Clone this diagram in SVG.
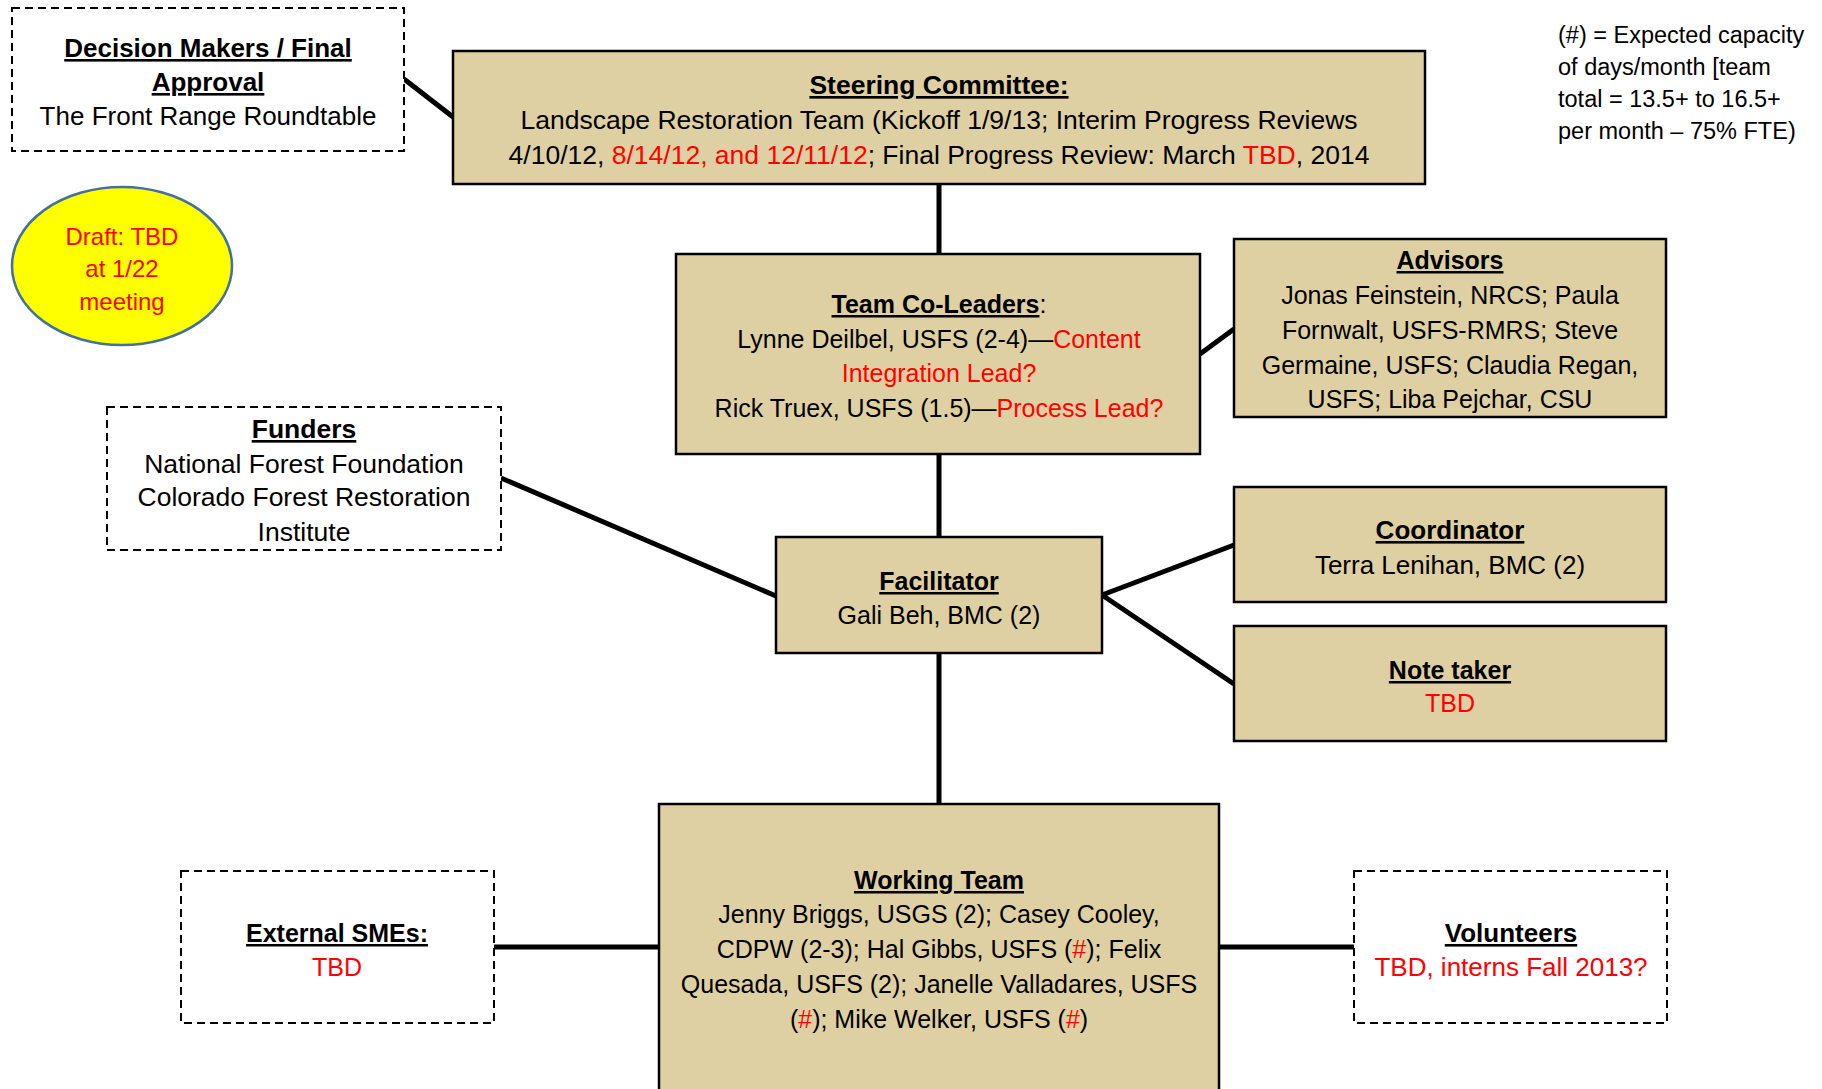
<svg xmlns="http://www.w3.org/2000/svg" width="1822" height="1089" viewBox="0 0 1822 1089">
<style>
text{font-family:"Liberation Sans",Arial,sans-serif;font-size:25px;fill:#000;text-anchor:middle}
.t{font-weight:bold;text-decoration:underline}
.r{fill:#ff0000}
.box{fill:#dfd0a3;stroke:#000;stroke-width:2.5}
.dash{fill:#fff;stroke:#000;stroke-width:2;stroke-dasharray:8,5}
.c{stroke:#000;stroke-width:5;fill:none}
.sm{font-size:24px}
.lg{font-size:23.5px;text-anchor:start}
.big{font-size:26.5px}
.mid{font-size:26px}
</style>
<rect width="1822" height="1089" fill="#fff"/>
<g id="connectors">
<line class="c" x1="404" y1="79" x2="453" y2="117"/>
<line class="c" x1="939" y1="184" x2="939" y2="254"/>
<line class="c" x1="1200" y1="354" x2="1234" y2="329"/>
<line class="c" x1="939" y1="454" x2="939" y2="537"/>
<line class="c" x1="501" y1="478" x2="776" y2="596"/>
<line class="c" x1="1102" y1="595" x2="1234" y2="545"/>
<line class="c" x1="1102" y1="595" x2="1234" y2="684"/>
<line class="c" x1="939" y1="653" x2="939" y2="804"/>
<line class="c" x1="494" y1="947" x2="659" y2="947"/>
<line class="c" x1="1219" y1="947" x2="1354" y2="947"/>
</g>
<g id="decision-makers">
<rect class="dash" x="12" y="8" width="392" height="143"/>
<text x="208" y="57" class="t mid">Decision Makers / Final</text>
<text x="208" y="91" class="t mid">Approval</text>
<text x="208" y="125" class="mid">The Front Range Roundtable</text>
</g>
<g id="steering-committee">
<rect class="box" x="453" y="51" width="972" height="133"/>
<text x="939" y="94" class="t big">Steering Committee:</text>
<text x="939" y="129" class="big">Landscape Restoration Team (Kickoff 1/9/13; Interim Progress Reviews</text>
<text x="939" y="164" class="big">4/10/12, <tspan class="r">8/14/12, and 12/11/12</tspan>; Final Progress Review: March <tspan class="r">TBD</tspan>, 2014</text>
</g>
<g id="draft-note">
<ellipse cx="122" cy="266" rx="110" ry="79" fill="#ffff00" stroke="#41719c" stroke-width="2.5"/>
<text x="122" y="245" class="sm r">Draft: TBD</text>
<text x="122" y="277" class="sm r">at 1/22</text>
<text x="122" y="310" class="sm r">meeting</text>
</g>
<g id="legend">
<text x="1558" y="43" class="lg">(#) = Expected capacity</text>
<text x="1558" y="75" class="lg">of days/month [team</text>
<text x="1558" y="107" class="lg">total = 13.5+ to 16.5+</text>
<text x="1558" y="139" class="lg">per month – 75% FTE)</text>
</g>
<g id="team-co-leaders">
<rect class="box" x="676" y="254" width="524" height="200"/>
<text x="939" y="313"><tspan class="t">Team Co-Leaders</tspan>:</text>
<text x="939" y="348">Lynne Deilbel, USFS (2-4)—<tspan class="r">Content</tspan></text>
<text x="939" y="382" class="r">Integration Lead?</text>
<text x="939" y="417">Rick Truex, USFS (1.5)—<tspan class="r">Process Lead?</tspan></text>
</g>
<g id="advisors">
<rect class="box" x="1234" y="239" width="432" height="178"/>
<text x="1450" y="269" class="t">Advisors</text>
<text x="1450" y="304">Jonas Feinstein, NRCS; Paula</text>
<text x="1450" y="339">Fornwalt, USFS-RMRS; Steve</text>
<text x="1450" y="374">Germaine, USFS; Claudia Regan,</text>
<text x="1450" y="408">USFS; Liba Pejchar, CSU</text>
</g>
<g id="funders">
<rect class="dash" x="107" y="407" width="394" height="143"/>
<text x="304" y="438" class="t big">Funders</text>
<text x="304" y="473" class="big">National Forest Foundation</text>
<text x="304" y="506" class="big">Colorado Forest Restoration</text>
<text x="304" y="541" class="big">Institute</text>
</g>
<g id="facilitator">
<rect class="box" x="776" y="537" width="326" height="116"/>
<text x="939" y="590" class="t">Facilitator</text>
<text x="939" y="624">Gali Beh, BMC (2)</text>
</g>
<g id="coordinator">
<rect class="box" x="1234" y="487" width="432" height="115"/>
<text x="1450" y="539" class="t mid">Coordinator</text>
<text x="1450" y="574" class="mid">Terra Lenihan, BMC (2)</text>
</g>
<g id="note-taker">
<rect class="box" x="1234" y="626" width="432" height="115"/>
<text x="1450" y="679" class="t">Note taker</text>
<text x="1450" y="712" class="r">TBD</text>
</g>
<g id="working-team">
<rect class="box" x="659" y="804" width="560" height="300"/>
<text x="939" y="889" class="t">Working Team</text>
<text x="939" y="923">Jenny Briggs, USGS (2); Casey Cooley,</text>
<text x="939" y="958">CDPW (2-3); Hal Gibbs, USFS (<tspan class="r">#</tspan>); Felix</text>
<text x="939" y="993">Quesada, USFS (2); Janelle Valladares, USFS</text>
<text x="939" y="1028">(<tspan class="r">#</tspan>); Mike Welker, USFS (<tspan class="r">#</tspan>)</text>
</g>
<g id="external-smes">
<rect class="dash" x="181" y="871" width="313" height="152"/>
<text x="337" y="942" class="t">External SMEs:</text>
<text x="337" y="976" class="r">TBD</text>
</g>
<g id="volunteers">
<rect class="dash" x="1354" y="871" width="313" height="152"/>
<text x="1511" y="942" class="t mid">Volunteers</text>
<text x="1511" y="976" class="r mid">TBD, interns Fall 2013?</text>
</g>
</svg>
